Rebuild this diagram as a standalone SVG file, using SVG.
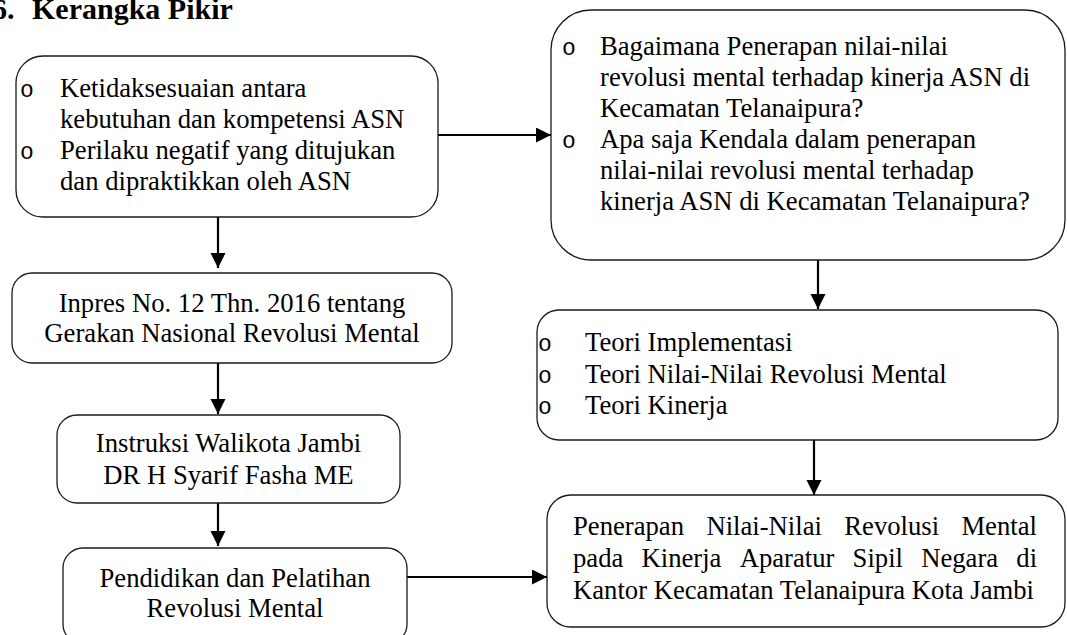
<svg xmlns="http://www.w3.org/2000/svg" width="1067" height="635" viewBox="0 0 1067 635">
<defs>
<style>
.box{fill:#fff;stroke:#1a1a1a;stroke-width:1.3}
.t{font-family:"Liberation Serif","Times New Roman",serif;font-size:26.67px;fill:#000}
.c{text-anchor:middle}
.b{font-family:"Liberation Mono","Courier New",monospace;font-size:23px;fill:#000}
.title{font-family:"Liberation Serif","Times New Roman",serif;font-size:30px;font-weight:bold;fill:#000}
.conn{fill:none;stroke:#000;stroke-width:2.2}
</style>
<marker id="arr" markerUnits="userSpaceOnUse" markerWidth="16" markerHeight="16" refX="15" refY="7.5" orient="auto">
<path d="M0,0 L15,7.5 L0,15 Z" fill="#000"/>
</marker>
</defs>
<rect width="1067" height="635" fill="#fff"/>
<g id="title">
<text class="title" x="-8" y="19">6.</text>
<text class="title" x="32" y="19">Kerangka Pikir</text>
</g>
<g id="connectors">
<line class="conn" x1="438" y1="135" x2="551" y2="135" marker-end="url(#arr)"/>
<line class="conn" x1="218" y1="217" x2="218" y2="268" marker-end="url(#arr)"/>
<line class="conn" x1="218" y1="363" x2="218" y2="414" marker-end="url(#arr)"/>
<line class="conn" x1="218" y1="503" x2="218" y2="546" marker-end="url(#arr)"/>
<line class="conn" x1="407" y1="577" x2="547" y2="577" marker-end="url(#arr)"/>
<line class="conn" x1="818" y1="260" x2="818" y2="309" marker-end="url(#arr)"/>
<line class="conn" x1="814" y1="440" x2="814" y2="495" marker-end="url(#arr)"/>
</g>
<g id="node-masalah">
<rect class="box" x="16" y="56" width="422" height="161" rx="27"/>
<text class="b" x="20" y="97">o</text>
<text class="t" x="60" y="97">Ketidaksesuaian antara</text>
<text class="t" x="60" y="128">kebutuhan dan kompetensi ASN</text>
<text class="b" x="20" y="159">o</text>
<text class="t" x="60" y="159">Perilaku negatif yang ditujukan</text>
<text class="t" x="60" y="190">dan dipraktikkan oleh ASN</text>
</g>
<g id="node-rumusan">
<rect class="box" x="551" y="10" width="514" height="250" rx="40"/>
<text class="b" x="562" y="55">o</text>
<text class="t" x="600" y="55">Bagaimana Penerapan nilai-nilai</text>
<text class="t" x="600" y="86">revolusi mental terhadap kinerja ASN di</text>
<text class="t" x="600" y="117">Kecamatan Telanaipura?</text>
<text class="b" x="562" y="148">o</text>
<text class="t" x="600" y="148">Apa saja Kendala dalam penerapan</text>
<text class="t" x="600" y="179">nilai-nilai revolusi mental terhadap</text>
<text class="t" x="600" y="210">kinerja ASN di Kecamatan Telanaipura?</text>
</g>
<g id="node-inpres">
<rect class="box" x="12" y="273" width="440" height="90" rx="20"/>
<text class="t c" x="232" y="312">Inpres No. 12 Thn. 2016 tentang</text>
<text class="t c" x="232" y="342">Gerakan Nasional Revolusi Mental</text>
</g>
<g id="node-instruksi">
<rect class="box" x="57" y="415" width="343" height="88" rx="20"/>
<text class="t c" x="228.5" y="452">Instruksi Walikota Jambi</text>
<text class="t c" x="228.5" y="483.5">DR H Syarif Fasha ME</text>
</g>
<g id="node-diklat">
<rect class="box" x="63" y="548" width="344" height="96" rx="20"/>
<text class="t c" x="235" y="587">Pendidikan dan Pelatihan</text>
<text class="t c" x="235" y="617">Revolusi Mental</text>
</g>
<g id="node-teori">
<rect class="box" x="537" y="310" width="521" height="130" rx="22"/>
<text class="b" x="538" y="351">o</text>
<text class="t" x="585" y="351">Teori Implementasi</text>
<text class="b" x="538" y="382.7">o</text>
<text class="t" x="585" y="382.7">Teori Nilai-Nilai Revolusi Mental</text>
<text class="b" x="538" y="414.4">o</text>
<text class="t" x="585" y="414.4">Teori Kinerja</text>
</g>
<g id="node-hasil">
<rect class="box" x="547" y="495" width="518" height="132" rx="24"/>
<text class="t" y="535"><tspan x="573">Penerapan</tspan><tspan x="706.4">Nilai-Nilai</tspan><tspan x="844.3">Revolusi</tspan><tspan x="961.4">Mental</tspan></text>
<text class="t" y="567"><tspan x="573">pada</tspan><tspan x="641.5">Kinerja</tspan><tspan x="739.7">Aparatur</tspan><tspan x="852.6">Sipil</tspan><tspan x="921.2">Negara</tspan><tspan x="1016.3">di</tspan></text>
<text class="t" x="573" y="599">Kantor Kecamatan Telanaipura Kota Jambi</text>
</g>
</svg>
